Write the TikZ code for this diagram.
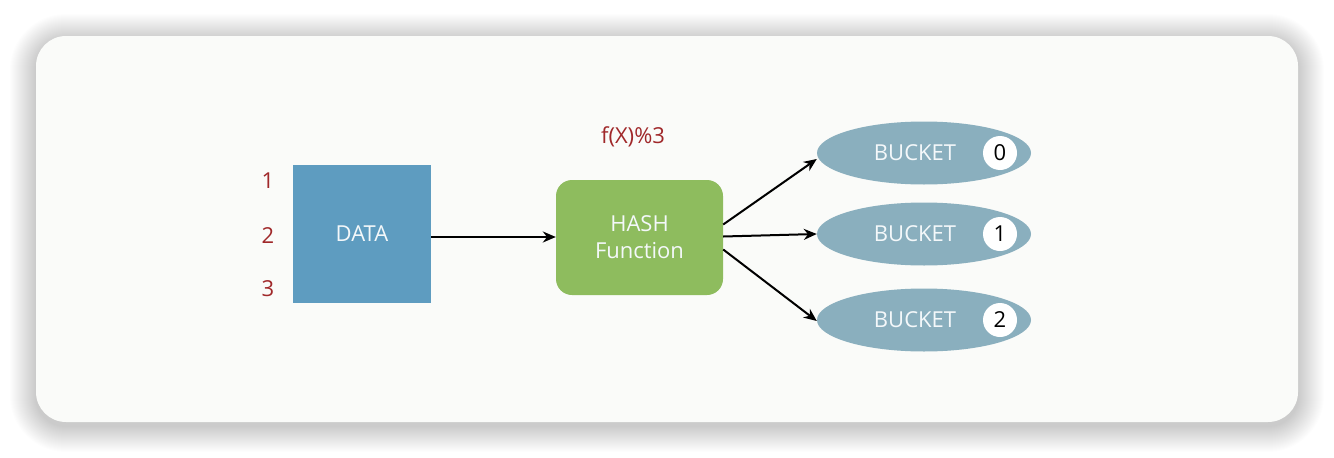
\documentclass[tikz,border=0pt]{standalone}
\usepackage{fontspec}
\setmainfont{Open Sans}
\usetikzlibrary{arrows.meta,shapes.geometric}
\definecolor{cardbg}{HTML}{FAFBF9}
\definecolor{databox}{HTML}{5E9CC0}
\definecolor{hashbox}{HTML}{8EBC5E}
\definecolor{bucketfill}{HTML}{8AAFBE}
\definecolor{redtext}{HTML}{A0282A}
\definecolor{whitetext}{HTML}{F4F8FA}
\tikzset{
  lbl/.style={text=redtext, font=\fontsize{22}{24}\selectfont},
  bucket/.style={ellipse, fill=bucketfill, minimum width=214pt, minimum height=63pt, inner sep=0pt},
  bnum/.style={circle, fill=white, minimum size=34pt, inner sep=0pt, font=\fontsize{22}{24}\selectfont, text=black},
  btext/.style={text=whitetext, font=\fontsize{22}{24}\selectfont},
  conn/.style={-{Stealth[length=13pt,width=11pt]}, line width=2pt, black},
}
\begin{document}
\begin{tikzpicture}[x=1pt,y=-1pt]
\useasboundingbox (0,0) rectangle (1334,458);
\fill[white] (0,0) rectangle (1334,458);
\foreach \k in {1,...,26}{
  \fill[black, opacity=0.0065, rounded corners={30+\k}] (36-\k,36-\k+4) rectangle (1298+\k,422+\k+4);
}
\fill[cardbg, rounded corners=30pt] (36,36) rectangle (1298,422);

\node[fill=databox, minimum width=138pt, minimum height=138pt, inner sep=0pt, text=whitetext, font=\fontsize{22}{24}\selectfont] (data) at (362,234) {DATA};
\node[lbl] (n1) at (268,181) {1};
\node[lbl] (n2) at (268,236) {2};
\node[lbl] (n3) at (268,289) {3};

\node[fill=hashbox, rounded corners=16pt, minimum width=167pt, minimum height=115pt, inner sep=0pt, align=center, text=whitetext, font=\fontsize{22}{27}\selectfont] (hash) at (639.5,237.5) {HASH\\Function};
\node[lbl] (fx) at (633,137) {f(X)\%3};

\node[bucket] (b0) at (924,153) {};
\node[bucket] (b1) at (924,234) {};
\node[bucket] (b2) at (924,320) {};
\foreach \i in {0,1,2}{
  \node[btext] (t\i) at ([xshift=-9pt]b\i.center) {BUCKET};
  \node[bnum] (c\i) at ([xshift=76pt]b\i.center) {\i};
}

\draw[conn] ([yshift=-3pt]data.east) -- ([yshift=-3pt]data.east -| hash.west);
\draw[conn] ([yshift=13pt]hash.east) -- ([yshift=-6pt]b0.west);
\draw[conn] ([yshift=1pt]hash.east) -- (b1.west);
\draw[conn] ([yshift=-12pt]hash.east) -- ([yshift=-1pt]b2.west);
\end{tikzpicture}
\end{document}
